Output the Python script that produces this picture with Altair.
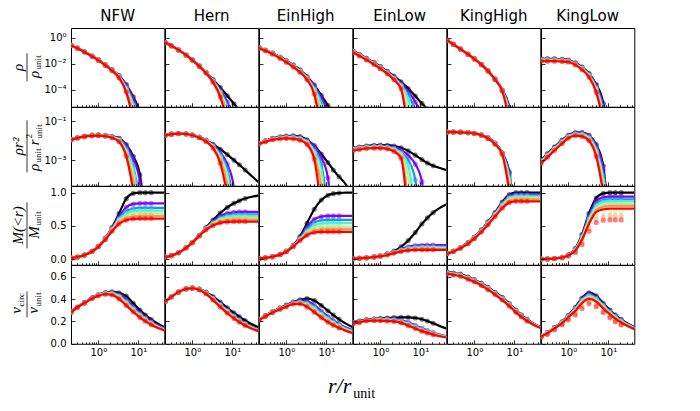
import altair as alt

MODELS = ["NFW", "Hern", "EinHigh", "EinLow", "KingHigh", "KingLow"]
QUANTITIES = ["rho", "rhor2", "M", "v"]
# black, then rainbow purple -> red
SERIES_COLORS = ["#000000", "#8000ff", "#1996f3", "#4df3ce", "#b3f396", "#ff964f", "#ff0000"]
R = [0.21, 0.3, 0.45, 0.7, 1.0, 1.5, 2.2, 3.3, 5.0, 7.5, 11.0, 15.0, 21.0, 31.0, 45.0]
N_POINTS = 13
X_TICKS = [0.3, 0.4, 0.5, 0.6, 0.7, 0.8, 0.9, 1, 2, 3, 4, 5, 6, 7, 8, 9, 10, 20, 30, 40]

# ---------------- NFW ----------------
NFW_rho = [  # log10
    [-0.584, -0.804, -1.076, -1.405, -1.700, -2.072, -2.454, -2.908, -3.598, -4.550, -5.832, -8.35],
    [-0.584, -0.804, -1.076, -1.410, -1.705, -2.077, -2.464, -2.928, -3.648, -4.700, -6.182, -9.35],
    [-0.584, -0.809, -1.081, -1.415, -1.710, -2.087, -2.479, -2.958, -3.798, -5.050, -7.282],
    [-0.589, -0.809, -1.086, -1.420, -1.720, -2.097, -2.494, -2.988, -3.898, -5.200, -7.682],
    [-0.589, -0.814, -1.091, -1.425, -1.725, -2.107, -2.509, -3.018, -3.998, -5.550, -8.582],
    [-0.594, -0.814, -1.096, -1.430, -1.730, -2.112, -2.519, -3.048, -4.098, -5.850, -9.0],
    [-0.594, -0.814, -1.096, -1.440, -1.740, -2.122, -2.534, -3.088, -4.198, -6.350, -9.0],
]
NFW_rhor2 = [  # log10
    [-1.94, -1.85, -1.77, -1.715, -1.70, -1.72, -1.77, -1.87, -2.20, -2.80, -3.75, -6.0],
    [-1.94, -1.85, -1.77, -1.72, -1.705, -1.725, -1.78, -1.89, -2.25, -2.95, -4.10, -7.0],
    [-1.94, -1.855, -1.775, -1.725, -1.71, -1.735, -1.795, -1.92, -2.40, -3.30, -5.20],
    [-1.945, -1.855, -1.78, -1.73, -1.72, -1.745, -1.81, -1.95, -2.50, -3.45, -5.60],
    [-1.945, -1.86, -1.785, -1.735, -1.725, -1.755, -1.825, -1.98, -2.60, -3.80, -6.50],
    [-1.95, -1.86, -1.79, -1.74, -1.73, -1.76, -1.835, -2.01, -2.70, -4.10, -7.0],
    [-1.95, -1.86, -1.79, -1.75, -1.74, -1.77, -1.85, -2.05, -2.80, -4.60, -7.0],
]
NFW_M = [
    [0.017, 0.032, 0.061, 0.119, 0.193, 0.316, 0.475, 0.685, 0.91, 0.99, 1.0, 1.0, 1.0, 1.0, 1.0],
    [0.017, 0.032, 0.061, 0.119, 0.192, 0.313, 0.465, 0.64, 0.78, 0.83, 0.84, 0.84, 0.84, 0.84, 0.84],
    [0.017, 0.032, 0.061, 0.118, 0.19, 0.308, 0.455, 0.615, 0.72, 0.76, 0.77, 0.77, 0.77, 0.77, 0.77],
    [0.017, 0.032, 0.06, 0.117, 0.189, 0.305, 0.447, 0.595, 0.685, 0.723, 0.73, 0.73, 0.73, 0.73, 0.73],
    [0.017, 0.032, 0.06, 0.116, 0.188, 0.302, 0.44, 0.575, 0.65, 0.683, 0.69, 0.69, 0.69, 0.69, 0.69],
    [0.017, 0.032, 0.06, 0.116, 0.187, 0.298, 0.432, 0.555, 0.615, 0.643, 0.65, 0.65, 0.65, 0.65, 0.65],
    [0.017, 0.032, 0.06, 0.115, 0.185, 0.295, 0.42, 0.53, 0.585, 0.605, 0.61, 0.61, 0.61, 0.61, 0.61],
]
NFW_v = [
    [0.284, 0.327, 0.368, 0.412, 0.439, 0.459, 0.465, 0.456, 0.427, 0.363, 0.302, 0.258, 0.218, 0.180, 0.151],
    [0.284, 0.327, 0.368, 0.412, 0.438, 0.457, 0.460, 0.440, 0.395, 0.333, 0.276, 0.237, 0.200, 0.165, 0.138],
    [0.284, 0.327, 0.368, 0.410, 0.436, 0.453, 0.455, 0.432, 0.379, 0.318, 0.265, 0.227, 0.191, 0.158, 0.132],
    [0.284, 0.327, 0.365, 0.409, 0.435, 0.451, 0.451, 0.425, 0.370, 0.310, 0.258, 0.221, 0.186, 0.153, 0.129],
    [0.284, 0.327, 0.365, 0.407, 0.434, 0.449, 0.447, 0.417, 0.361, 0.302, 0.250, 0.214, 0.181, 0.149, 0.125],
    [0.284, 0.327, 0.365, 0.407, 0.432, 0.446, 0.443, 0.410, 0.351, 0.293, 0.243, 0.208, 0.176, 0.145, 0.122],
    [0.284, 0.327, 0.365, 0.405, 0.430, 0.443, 0.437, 0.401, 0.342, 0.284, 0.235, 0.202, 0.170, 0.140, 0.118],
]

# ---------------- Hern ----------------
Hern_rho = [
    [-0.368, -0.617, -0.935, -1.334, -1.701, -2.168, -2.655, -3.218, -3.832, -4.461, -5.076, -5.586, -6.147, -6.804, -7.401],
    [-0.368, -0.617, -0.935, -1.335, -1.703, -2.172, -2.664, -3.258, -3.998, -4.950, -6.482, -9.35],
    [-0.369, -0.618, -0.936, -1.337, -1.706, -2.177, -2.674, -3.288, -4.098, -5.200, -7.282],
    [-0.369, -0.618, -0.937, -1.339, -1.709, -2.182, -2.684, -3.318, -4.198, -5.450, -8.082],
    [-0.370, -0.619, -0.938, -1.341, -1.712, -2.187, -2.694, -3.348, -4.298, -5.700, -9.0],
    [-0.370, -0.619, -0.939, -1.343, -1.715, -2.192, -2.704, -3.378, -4.398, -6.000, -9.0],
    [-0.371, -0.620, -0.941, -1.346, -1.720, -2.202, -2.724, -3.418, -4.548, -6.550, -9.0],
]
Hern_rhor2 = [
    [-1.724, -1.663, -1.629, -1.644, -1.701, -1.816, -1.971, -2.180, -2.434, -2.711, -2.994, -3.234, -3.503, -3.822, -4.115],
    [-1.724, -1.663, -1.629, -1.645, -1.703, -1.820, -1.980, -2.220, -2.600, -3.200, -4.400, -7.0],
    [-1.725, -1.664, -1.630, -1.647, -1.706, -1.825, -1.990, -2.250, -2.700, -3.450, -5.200],
    [-1.725, -1.664, -1.631, -1.649, -1.709, -1.830, -2.000, -2.280, -2.800, -3.700, -6.000],
    [-1.726, -1.665, -1.632, -1.651, -1.712, -1.835, -2.010, -2.310, -2.900, -3.950, -7.0],
    [-1.726, -1.665, -1.633, -1.653, -1.715, -1.840, -2.020, -2.340, -3.000, -4.250, -7.0],
    [-1.727, -1.666, -1.635, -1.656, -1.720, -1.850, -2.040, -2.380, -3.150, -4.800, -7.0],
]
Hern_M = [
    [0.030, 0.053, 0.096, 0.170, 0.250, 0.360, 0.473, 0.589, 0.694, 0.779, 0.840, 0.879, 0.911, 0.939, 0.956],
    [0.030, 0.053, 0.096, 0.170, 0.250, 0.358, 0.466, 0.565, 0.645, 0.690, 0.705, 0.710, 0.710, 0.710, 0.710],
    [0.030, 0.053, 0.096, 0.169, 0.249, 0.356, 0.460, 0.550, 0.620, 0.660, 0.672, 0.675, 0.675, 0.675, 0.675],
    [0.030, 0.053, 0.096, 0.169, 0.249, 0.355, 0.456, 0.540, 0.603, 0.638, 0.648, 0.650, 0.650, 0.650, 0.650],
    [0.030, 0.053, 0.096, 0.169, 0.248, 0.353, 0.451, 0.528, 0.583, 0.610, 0.618, 0.620, 0.620, 0.620, 0.620],
    [0.030, 0.053, 0.096, 0.169, 0.248, 0.351, 0.446, 0.518, 0.565, 0.588, 0.594, 0.595, 0.595, 0.595, 0.595],
    [0.030, 0.053, 0.096, 0.169, 0.247, 0.349, 0.440, 0.505, 0.545, 0.560, 0.565, 0.565, 0.565, 0.565, 0.565],
]
Hern_v = [
    [0.379, 0.421, 0.463, 0.492, 0.500, 0.490, 0.463, 0.423, 0.373, 0.322, 0.276, 0.242, 0.208, 0.174, 0.147],
    [0.379, 0.421, 0.463, 0.492, 0.500, 0.489, 0.460, 0.414, 0.359, 0.303, 0.253, 0.218, 0.184, 0.151, 0.127],
    [0.379, 0.421, 0.463, 0.492, 0.499, 0.487, 0.457, 0.408, 0.352, 0.297, 0.247, 0.212, 0.179, 0.148, 0.124],
    [0.379, 0.421, 0.463, 0.492, 0.499, 0.487, 0.455, 0.404, 0.347, 0.292, 0.243, 0.208, 0.176, 0.145, 0.122],
    [0.379, 0.421, 0.463, 0.491, 0.498, 0.485, 0.453, 0.400, 0.341, 0.285, 0.237, 0.203, 0.172, 0.141, 0.119],
    [0.379, 0.421, 0.463, 0.491, 0.498, 0.484, 0.450, 0.396, 0.336, 0.280, 0.232, 0.199, 0.168, 0.139, 0.116],
    [0.378, 0.420, 0.462, 0.491, 0.497, 0.482, 0.447, 0.391, 0.330, 0.273, 0.227, 0.194, 0.164, 0.135, 0.113],
]

# ---------------- EinHigh ----------------
EinHigh_rho = [
    [-0.764, -0.954, -1.186, -1.490, -1.760, -2.102, -2.474, -2.988, -3.648, -4.430, -5.202, -5.852, -6.494, -7.232, -8.086],
    [-0.774, -0.964, -1.196, -1.500, -1.770, -2.122, -2.504, -3.018, -3.698, -4.600, -5.982, -9.35],
    [-0.784, -0.974, -1.206, -1.520, -1.800, -2.152, -2.544, -3.068, -3.848, -4.950, -7.582],
    [-0.784, -0.984, -1.226, -1.540, -1.820, -2.182, -2.574, -3.108, -3.948, -5.250, -8.582],
    [-0.794, -0.984, -1.236, -1.550, -1.840, -2.202, -2.604, -3.138, -4.048, -5.650, -9.0],
    [-0.794, -0.994, -1.246, -1.570, -1.860, -2.232, -2.634, -3.168, -4.198, -6.050, -9.0],
    [-0.804, -1.004, -1.256, -1.590, -1.880, -2.252, -2.654, -3.238, -4.348, -7.250],
]
EinHigh_rhor2 = [
    [-2.12, -2.00, -1.88, -1.80, -1.76, -1.75, -1.79, -1.95, -2.25, -2.68, -3.12, -3.50, -3.85, -4.25, -4.80],
    [-2.13, -2.01, -1.89, -1.81, -1.77, -1.77, -1.82, -1.98, -2.30, -2.85, -3.90, -7.0],
    [-2.14, -2.02, -1.90, -1.83, -1.80, -1.80, -1.86, -2.03, -2.45, -3.20, -5.50],
    [-2.14, -2.03, -1.92, -1.85, -1.82, -1.83, -1.89, -2.07, -2.55, -3.50, -6.50],
    [-2.15, -2.03, -1.93, -1.86, -1.84, -1.85, -1.92, -2.10, -2.65, -3.90, -7.0],
    [-2.15, -2.04, -1.94, -1.88, -1.86, -1.88, -1.95, -2.13, -2.80, -4.30, -7.0],
    [-2.16, -2.05, -1.95, -1.90, -1.88, -1.90, -1.97, -2.20, -2.95, -5.50],
]
EinHigh_M = [
    [0.010, 0.019, 0.037, 0.072, 0.120, 0.210, 0.340, 0.540, 0.750, 0.890, 0.960, 0.985, 0.995, 1.0, 1.0],
    [0.010, 0.019, 0.037, 0.071, 0.118, 0.205, 0.325, 0.480, 0.600, 0.640, 0.650, 0.650, 0.650, 0.650, 0.650],
    [0.010, 0.019, 0.036, 0.070, 0.116, 0.200, 0.312, 0.445, 0.550, 0.583, 0.590, 0.590, 0.590, 0.590, 0.590],
    [0.010, 0.0185, 0.036, 0.069, 0.114, 0.197, 0.302, 0.420, 0.510, 0.535, 0.540, 0.540, 0.540, 0.540, 0.540],
    [0.0098, 0.0185, 0.0355, 0.068, 0.112, 0.194, 0.293, 0.395, 0.465, 0.487, 0.490, 0.490, 0.490, 0.490, 0.490],
    [0.0097, 0.018, 0.0352, 0.0675, 0.111, 0.192, 0.286, 0.378, 0.430, 0.447, 0.450, 0.450, 0.450, 0.450, 0.450],
    [0.0095, 0.018, 0.035, 0.067, 0.110, 0.190, 0.280, 0.360, 0.400, 0.410, 0.410, 0.410, 0.410, 0.410, 0.410],
]
EinHigh_v = [
    [0.218, 0.252, 0.287, 0.321, 0.346, 0.374, 0.393, 0.405, 0.387, 0.344, 0.295, 0.256, 0.218, 0.180, 0.151],
    [0.218, 0.252, 0.287, 0.318, 0.344, 0.370, 0.384, 0.381, 0.346, 0.292, 0.243, 0.208, 0.176, 0.145, 0.122],
    [0.218, 0.252, 0.283, 0.316, 0.341, 0.365, 0.377, 0.367, 0.332, 0.279, 0.232, 0.198, 0.168, 0.138, 0.116],
    [0.218, 0.248, 0.283, 0.314, 0.338, 0.362, 0.371, 0.357, 0.319, 0.267, 0.222, 0.190, 0.160, 0.132, 0.111],
    [0.216, 0.248, 0.281, 0.312, 0.335, 0.360, 0.365, 0.346, 0.305, 0.255, 0.211, 0.181, 0.153, 0.126, 0.106],
    [0.215, 0.245, 0.280, 0.310, 0.333, 0.358, 0.361, 0.338, 0.293, 0.244, 0.202, 0.173, 0.146, 0.120, 0.101],
    [0.213, 0.245, 0.279, 0.309, 0.332, 0.356, 0.357, 0.330, 0.283, 0.234, 0.193, 0.165, 0.140, 0.115, 0.0965],
]

# ---------------- EinLow ----------------
EinLow_rho = [
    [-1.024, -1.274, -1.576, -1.920, -2.220, -2.582, -2.954, -3.398, -3.918, -4.490, -5.052, -5.492, -5.924, -6.382, -6.796],
    [-1.044, -1.294, -1.596, -1.950, -2.250, -2.622, -3.014, -3.508, -4.148, -4.950, -6.182, -9.35],
    [-1.064, -1.314, -1.616, -1.970, -2.280, -2.662, -3.074, -3.618, -4.398, -5.750, -9.08],
    [-1.084, -1.334, -1.636, -2.000, -2.310, -2.692, -3.114, -3.688, -4.698, -7.250],
    [-1.094, -1.354, -1.656, -2.020, -2.330, -2.722, -3.154, -3.758, -5.298, -8.750],
    [-1.114, -1.374, -1.676, -2.040, -2.360, -2.752, -3.204, -3.838, -6.398, -9.0],
    [-1.144, -1.404, -1.706, -2.070, -2.380, -2.772, -3.234, -3.938, -7.398],
]
EinLow_rhor2 = [
    [-2.38, -2.32, -2.27, -2.23, -2.22, -2.23, -2.27, -2.36, -2.52, -2.74, -2.97, -3.14, -3.28, -3.40, -3.51],
    [-2.40, -2.34, -2.29, -2.26, -2.25, -2.27, -2.33, -2.47, -2.75, -3.20, -4.10, -7.0],
    [-2.42, -2.36, -2.31, -2.28, -2.28, -2.31, -2.39, -2.58, -3.00, -4.00, -7.0],
    [-2.44, -2.38, -2.33, -2.31, -2.31, -2.34, -2.43, -2.65, -3.30, -5.50],
    [-2.45, -2.40, -2.35, -2.33, -2.33, -2.37, -2.47, -2.72, -3.90, -7.0],
    [-2.47, -2.42, -2.37, -2.35, -2.36, -2.40, -2.52, -2.80, -5.00],
    [-2.50, -2.45, -2.40, -2.38, -2.38, -2.42, -2.55, -2.90, -6.00],
]
EinLow_M = [
    [0.008, 0.0125, 0.021, 0.035, 0.052, 0.080, 0.120, 0.185, 0.280, 0.400, 0.530, 0.620, 0.700, 0.770, 0.820],
    [0.0078, 0.012, 0.0205, 0.034, 0.050, 0.076, 0.110, 0.150, 0.185, 0.203, 0.209, 0.210, 0.210, 0.210, 0.210],
    [0.0076, 0.0118, 0.020, 0.033, 0.048, 0.073, 0.104, 0.140, 0.170, 0.185, 0.190, 0.190, 0.190, 0.190, 0.190],
    [0.0074, 0.0116, 0.0198, 0.0325, 0.047, 0.070, 0.099, 0.132, 0.158, 0.171, 0.175, 0.175, 0.175, 0.175, 0.175],
    [0.0072, 0.0114, 0.0195, 0.032, 0.045, 0.067, 0.095, 0.125, 0.148, 0.159, 0.162, 0.162, 0.162, 0.162, 0.162],
    [0.0070, 0.0112, 0.0192, 0.031, 0.0435, 0.0645, 0.091, 0.120, 0.140, 0.148, 0.150, 0.150, 0.150, 0.150, 0.150],
    [0.0068, 0.011, 0.019, 0.030, 0.042, 0.062, 0.088, 0.115, 0.132, 0.139, 0.140, 0.140, 0.140, 0.140, 0.140],
]
EinLow_v = [
    [0.195, 0.204, 0.216, 0.224, 0.228, 0.231, 0.234, 0.237, 0.237, 0.231, 0.219, 0.203, 0.183, 0.158, 0.137],
    [0.193, 0.200, 0.213, 0.220, 0.224, 0.225, 0.224, 0.213, 0.192, 0.165, 0.138, 0.118, 0.100, 0.082, 0.069],
    [0.190, 0.198, 0.211, 0.217, 0.219, 0.221, 0.217, 0.206, 0.184, 0.157, 0.131, 0.113, 0.095, 0.078, 0.066],
    [0.188, 0.197, 0.210, 0.215, 0.217, 0.216, 0.212, 0.200, 0.178, 0.151, 0.126, 0.108, 0.091, 0.075, 0.063],
    [0.185, 0.195, 0.208, 0.214, 0.212, 0.211, 0.208, 0.195, 0.172, 0.146, 0.121, 0.104, 0.088, 0.072, 0.061],
    [0.183, 0.193, 0.207, 0.210, 0.209, 0.207, 0.203, 0.191, 0.167, 0.141, 0.117, 0.100, 0.085, 0.070, 0.058],
    [0.180, 0.191, 0.205, 0.207, 0.205, 0.203, 0.200, 0.187, 0.162, 0.136, 0.113, 0.097, 0.082, 0.067, 0.056],
]

# ---------------- KingHigh ----------------
KingHigh_rho = [
    [-0.194, -0.504, -0.866, -1.270, -1.620, -2.052, -2.534, -3.158, -4.018, -5.350, -9.082],
    [-0.194, -0.504, -0.866, -1.270, -1.620, -2.057, -2.539, -3.168, -4.038, -5.450, -9.082],
    [-0.194, -0.509, -0.871, -1.275, -1.625, -2.062, -2.544, -3.178, -4.058, -5.550, -9.082],
    [-0.199, -0.509, -0.871, -1.275, -1.625, -2.062, -2.549, -3.188, -4.068, -5.700, -9.082],
    [-0.199, -0.514, -0.876, -1.280, -1.630, -2.067, -2.554, -3.198, -4.078, -5.850, -9.082],
    [-0.204, -0.514, -0.876, -1.280, -1.630, -2.067, -2.559, -3.208, -4.088, -6.050, -9.082],
    [-0.204, -0.514, -0.876, -1.280, -1.630, -2.072, -2.564, -3.218, -4.098, -6.350, -9.082],
]
KingHigh_rhor2 = [
    [-1.55, -1.55, -1.56, -1.58, -1.62, -1.70, -1.85, -2.12, -2.62, -3.60, -7.0],
    [-1.55, -1.55, -1.56, -1.58, -1.62, -1.705, -1.855, -2.13, -2.64, -3.70, -7.0],
    [-1.55, -1.555, -1.565, -1.585, -1.625, -1.71, -1.86, -2.14, -2.66, -3.80, -7.0],
    [-1.555, -1.555, -1.565, -1.585, -1.625, -1.71, -1.865, -2.15, -2.67, -3.95, -7.0],
    [-1.555, -1.56, -1.57, -1.59, -1.63, -1.715, -1.87, -2.16, -2.68, -4.10, -7.0],
    [-1.56, -1.56, -1.57, -1.59, -1.63, -1.715, -1.875, -2.17, -2.69, -4.30, -7.0],
    [-1.56, -1.56, -1.57, -1.59, -1.63, -1.72, -1.88, -2.18, -2.70, -4.60, -7.0],
]
KingHigh_M = [
    [0.087, 0.120, 0.175, 0.250, 0.330, 0.440, 0.560, 0.700, 0.860, 0.970, 1.0, 1.0, 1.0, 1.0, 1.0],
    [0.086, 0.119, 0.173, 0.247, 0.326, 0.435, 0.553, 0.690, 0.845, 0.952, 0.980, 0.980, 0.980, 0.980, 0.980],
    [0.085, 0.118, 0.171, 0.244, 0.322, 0.430, 0.546, 0.680, 0.830, 0.935, 0.960, 0.960, 0.960, 0.960, 0.960],
    [0.085, 0.117, 0.170, 0.242, 0.319, 0.425, 0.540, 0.672, 0.815, 0.915, 0.940, 0.940, 0.940, 0.940, 0.940],
    [0.084, 0.116, 0.168, 0.239, 0.315, 0.420, 0.533, 0.663, 0.800, 0.897, 0.920, 0.920, 0.920, 0.920, 0.920],
    [0.083, 0.115, 0.166, 0.236, 0.311, 0.415, 0.526, 0.654, 0.785, 0.878, 0.900, 0.900, 0.900, 0.900, 0.900],
    [0.082, 0.114, 0.164, 0.233, 0.307, 0.408, 0.516, 0.640, 0.765, 0.850, 0.870, 0.870, 0.870, 0.870, 0.870],
]
KingHigh_v = [
    [0.644, 0.632, 0.624, 0.598, 0.574, 0.542, 0.505, 0.461, 0.415, 0.360, 0.302, 0.258, 0.218, 0.180, 0.151],
    [0.640, 0.630, 0.620, 0.594, 0.571, 0.539, 0.501, 0.457, 0.411, 0.356, 0.298, 0.256, 0.216, 0.178, 0.149],
    [0.636, 0.627, 0.616, 0.590, 0.567, 0.535, 0.498, 0.454, 0.407, 0.353, 0.295, 0.253, 0.214, 0.176, 0.148],
    [0.636, 0.624, 0.615, 0.588, 0.565, 0.532, 0.495, 0.451, 0.404, 0.349, 0.292, 0.250, 0.212, 0.174, 0.146],
    [0.632, 0.622, 0.611, 0.584, 0.561, 0.529, 0.492, 0.448, 0.400, 0.346, 0.289, 0.248, 0.209, 0.172, 0.145],
    [0.629, 0.619, 0.607, 0.581, 0.558, 0.526, 0.489, 0.445, 0.396, 0.342, 0.286, 0.245, 0.207, 0.170, 0.143],
    [0.625, 0.616, 0.604, 0.577, 0.554, 0.522, 0.484, 0.440, 0.391, 0.337, 0.281, 0.241, 0.204, 0.168, 0.141],
]

# ---------------- KingLow ----------------
KingLow_rho = [
    [-1.624, -1.624, -1.626, -1.660, -1.720, -1.932, -2.264, -2.758, -3.598, -5.050, -9.082],
    [-1.644, -1.644, -1.646, -1.680, -1.740, -1.952, -2.284, -2.788, -3.678, -5.250, -9.082],
    [-1.674, -1.674, -1.676, -1.710, -1.770, -1.982, -2.324, -2.838, -3.798, -5.550, -9.082],
    [-1.704, -1.704, -1.706, -1.740, -1.790, -2.012, -2.354, -2.888, -3.898, -5.750, -9.082],
    [-1.734, -1.734, -1.736, -1.770, -1.820, -2.042, -2.394, -2.938, -3.998, -5.950, -9.082],
    [-1.764, -1.764, -1.766, -1.800, -1.845, -2.067, -2.429, -2.988, -4.098, -6.200, -9.082],
    [-1.804, -1.804, -1.806, -1.830, -1.870, -2.092, -2.464, -3.038, -4.208, -6.450, -9.082],
]
KingLow_rhor2 = [
    [-2.98, -2.67, -2.32, -1.97, -1.72, -1.58, -1.58, -1.72, -2.20, -3.30, -7.0],
    [-3.00, -2.69, -2.34, -1.99, -1.74, -1.60, -1.60, -1.75, -2.28, -3.50, -7.0],
    [-3.03, -2.72, -2.37, -2.02, -1.77, -1.63, -1.64, -1.80, -2.40, -3.80, -7.0],
    [-3.06, -2.75, -2.40, -2.05, -1.79, -1.66, -1.67, -1.85, -2.50, -4.00, -7.0],
    [-3.09, -2.78, -2.43, -2.08, -1.82, -1.69, -1.71, -1.90, -2.60, -4.20, -7.0],
    [-3.12, -2.81, -2.46, -2.11, -1.845, -1.715, -1.745, -1.95, -2.70, -4.45, -7.0],
    [-3.16, -2.85, -2.50, -2.14, -1.87, -1.74, -1.78, -2.00, -2.81, -4.70, -7.0],
]
KingLow_M = [
    [0.001, 0.003, 0.0095, 0.027, 0.065, 0.160, 0.370, 0.690, 0.920, 0.990, 1.0, 1.0, 1.0, 1.0, 1.0],
    [0.001, 0.003, 0.0094, 0.0265, 0.063, 0.155, 0.355, 0.655, 0.870, 0.930, 0.940, 0.940, 0.940, 0.940, 0.940],
    [0.001, 0.0029, 0.0092, 0.026, 0.061, 0.150, 0.342, 0.625, 0.830, 0.890, 0.900, 0.900, 0.900, 0.900, 0.900],
    [0.001, 0.0029, 0.009, 0.0255, 0.060, 0.145, 0.330, 0.600, 0.800, 0.860, 0.870, 0.870, 0.870, 0.870, 0.870],
    [0.0009, 0.0028, 0.0088, 0.025, 0.058, 0.140, 0.315, 0.575, 0.765, 0.820, 0.830, 0.830, 0.830, 0.830, 0.830],
    [0.0009, 0.0028, 0.0087, 0.0245, 0.057, 0.135, 0.302, 0.553, 0.738, 0.790, 0.800, 0.800, 0.800, 0.800, 0.800],
    [0.0009, 0.0027, 0.0085, 0.024, 0.056, 0.130, 0.290, 0.530, 0.710, 0.750, 0.760, 0.760, 0.760, 0.760, 0.760],
]
KingLow_v = [
    [0.069, 0.100, 0.145, 0.196, 0.255, 0.327, 0.410, 0.457, 0.429, 0.363, 0.302, 0.258, 0.218, 0.180, 0.151],
    [0.069, 0.100, 0.145, 0.195, 0.251, 0.321, 0.402, 0.446, 0.417, 0.352, 0.292, 0.250, 0.212, 0.174, 0.146],
    [0.068, 0.098, 0.143, 0.193, 0.247, 0.316, 0.394, 0.435, 0.407, 0.344, 0.286, 0.245, 0.207, 0.170, 0.143],
    [0.068, 0.098, 0.141, 0.191, 0.245, 0.311, 0.387, 0.426, 0.400, 0.339, 0.281, 0.241, 0.204, 0.168, 0.141],
    [0.067, 0.097, 0.140, 0.189, 0.241, 0.306, 0.378, 0.417, 0.391, 0.331, 0.275, 0.235, 0.199, 0.164, 0.137],
    [0.066, 0.097, 0.139, 0.187, 0.239, 0.300, 0.371, 0.409, 0.384, 0.325, 0.270, 0.231, 0.195, 0.161, 0.135],
    [0.065, 0.095, 0.137, 0.185, 0.237, 0.294, 0.363, 0.401, 0.377, 0.316, 0.263, 0.225, 0.190, 0.157, 0.131],
]
# KingLow scatter points that sit below their lines (green, orange, red)
KingLow_M_pts = {
    4: [0.00085, 0.0025, 0.008, 0.022, 0.052, 0.12, 0.27, 0.50, 0.66, 0.71, 0.72, 0.72, 0.72],
    5: [0.0008, 0.0023, 0.0075, 0.021, 0.049, 0.11, 0.245, 0.46, 0.60, 0.64, 0.65, 0.65, 0.65],
    6: [0.0007, 0.002, 0.007, 0.02, 0.045, 0.10, 0.22, 0.42, 0.55, 0.585, 0.59, 0.59, 0.59],
}
KingLow_v_pts = {
    4: [0.064, 0.091, 0.133, 0.177, 0.228, 0.283, 0.350, 0.389, 0.363, 0.308, 0.256, 0.219, 0.185],
    5: [0.062, 0.088, 0.129, 0.173, 0.221, 0.271, 0.334, 0.373, 0.346, 0.292, 0.243, 0.208, 0.176],
    6: [0.058, 0.082, 0.125, 0.169, 0.212, 0.258, 0.316, 0.357, 0.332, 0.279, 0.232, 0.198, 0.168],
}

PANELS = {
    ("NFW", "rho"): NFW_rho, ("NFW", "rhor2"): NFW_rhor2, ("NFW", "M"): NFW_M, ("NFW", "v"): NFW_v,
    ("Hern", "rho"): Hern_rho, ("Hern", "rhor2"): Hern_rhor2, ("Hern", "M"): Hern_M, ("Hern", "v"): Hern_v,
    ("EinHigh", "rho"): EinHigh_rho, ("EinHigh", "rhor2"): EinHigh_rhor2, ("EinHigh", "M"): EinHigh_M, ("EinHigh", "v"): EinHigh_v,
    ("EinLow", "rho"): EinLow_rho, ("EinLow", "rhor2"): EinLow_rhor2, ("EinLow", "M"): EinLow_M, ("EinLow", "v"): EinLow_v,
    ("KingHigh", "rho"): KingHigh_rho, ("KingHigh", "rhor2"): KingHigh_rhor2, ("KingHigh", "M"): KingHigh_M, ("KingHigh", "v"): KingHigh_v,
    ("KingLow", "rho"): KingLow_rho, ("KingLow", "rhor2"): KingLow_rhor2, ("KingLow", "M"): KingLow_M, ("KingLow", "v"): KingLow_v,
}
POINT_OVERRIDES = {("KingLow", "M"): KingLow_M_pts, ("KingLow", "v"): KingLow_v_pts}
LOG_ROWS = ("rho", "rhor2")

# ---------------- layout / style ----------------
W, H = 93.3, 78.75
X_DOMAIN = [0.2075, 44.8]
Y_DOMAINS = {"rho": [4.9e-6, 5.57], "rhor2": [4.9e-5, 0.537], "M": [-0.085, 1.1], "v": [0.0, 0.705]}
Y_TICKS = {"rho": [1e-4, 1e-2, 1.0], "rhor2": [1e-3, 1e-1], "M": [0.0, 0.5, 1.0], "v": [0.0, 0.2, 0.4, 0.6]}
Y_LABEL_EXPR = {
    "rho": "datum.value > 0.5 ? '10⁰' : (datum.value > 0.005 ? '10⁻²' : '10⁻⁴')",
    "rhor2": "datum.value > 0.05 ? '10⁻¹' : '10⁻³'",
    "M": "format(datum.value, '.1f')",
    "v": "format(datum.value, '.1f')",
}
SERIF = "Liberation Serif"
# y-axis fraction titles: (text, size, style, dx, dy, align) in the rotated text frame
Y_TITLES = {
    "rho": (14, [("ρ", 15, "italic", 0, -4, "center"),
                 ("ρ", 15, "italic", -7, 12, "center"),
                 ("unit", 9, "normal", -2, 14, "left")]),
    "rhor2": (26, [("ρr²", 15, "italic", 0, -4, "center"),
                   ("ρ", 15, "italic", -21, 12, "center"),
                   ("unit", 9, "normal", -16, 14, "left"),
                   ("r", 15, "italic", 4, 12, "center"),
                   ("2", 9, "normal", 8, 5, "left"),
                   ("unit", 9, "normal", 8, 15, "left")]),
    "M": (23, [("M(<r)", 15, "italic", 0, -4, "center"),
               ("M", 15, "italic", -7, 12, "center"),
               ("unit", 9, "normal", 0, 14, "left")]),
    "v": (13, [("v", 15, "italic", -6, -6, "center"),
               ("circ", 9, "normal", -2, -3, "left"),
               ("v", 15, "italic", -6, 11, "center"),
               ("unit", 9, "normal", -2, 14, "left")]),
}
TITLE_X = -44
ONE_ROW = [{"k": 0}]


def x_axis(show_labels):
    return alt.Axis(
        values=X_TICKS, orient="bottom", offset=-4, tickSize=4, tickWidth=0.8, tickColor="black",
        tickDash={"condition": {"test": "datum.value != 1 && datum.value != 10", "value": [0, 2, 2]},
                  "value": [4, 0]},
        domain=False, grid=False, labels=show_labels,
        labelExpr="datum.value == 1 ? '10⁰' : (datum.value == 10 ? '10¹' : '')",
        labelFont="DejaVu Sans", labelFontSize=10, labelColor="black", labelPadding=4,
        labelOverlap=False, title=None, zindex=1)


def y_axis(q, show_labels):
    return alt.Axis(
        values=Y_TICKS[q], orient="left", offset=-4, tickSize=4, tickWidth=0.8, tickColor="black",
        domain=False, grid=False, labels=show_labels, labelExpr=Y_LABEL_EXPR[q],
        labelFont="DejaVu Sans", labelFontSize=10, labelColor="black", labelPadding=5,
        labelOverlap=False, title=None, zindex=1)


def text_layer(text, size, style, x, y, dx, dy, align, angle):
    return alt.Chart(alt.Data(values=ONE_ROW)).mark_text(
        text=text, font=SERIF, fontSize=size, fontStyle=style, align=align, baseline="alphabetic",
        angle=angle, dx=dx, dy=dy, color="black").encode(x=alt.value(x), y=alt.value(y))


def panel(mi, qi):
    m, q = MODELS[mi], QUANTITIES[qi]
    is_log = q in LOG_ROWS
    xenc = alt.X("r:Q", scale=alt.Scale(type="log", domain=X_DOMAIN, nice=False), axis=x_axis(qi == 3))
    yscale = (alt.Scale(type="log", domain=Y_DOMAINS[q], nice=False) if is_log
              else alt.Scale(domain=Y_DOMAINS[q], nice=False, zero=False))
    yenc = alt.Y("val:Q", scale=yscale, axis=y_axis(q, mi == 0))
    expr = "pow(10, datum.y)" if is_log else "datum.y"
    overrides = POINT_OVERRIDES.get((m, q), {})
    layers = []
    for s, ys in enumerate(PANELS[(m, q)]):
        color = SERIES_COLORS[s]
        line_rows = [{"r": R[i], "y": y} for i, y in enumerate(ys)]
        pts = overrides.get(s, ys[:N_POINTS])
        pt_rows = [{"r": R[i], "y": y} for i, y in enumerate(pts)]
        layers.append(alt.Chart(alt.Data(values=line_rows)).transform_calculate(val=expr)
                      .mark_line(color=color, strokeWidth=2.2, clip=True, interpolate="monotone")
                      .encode(x=xenc, y=yenc))
        layers.append(alt.Chart(alt.Data(values=pt_rows)).transform_calculate(val=expr)
                      .mark_circle(color=color, size=26, opacity=0.5, clip=True)
                      .encode(x=xenc, y=yenc))
    if mi == 0:
        half, parts = Y_TITLES[q]
        for (t, fs, st, dx, dy, al) in parts:
            layers.append(text_layer(t, fs, st, TITLE_X, H / 2, dx, dy, al, 270))
        layers.append(alt.Chart(alt.Data(values=ONE_ROW)).mark_rule(color="black", strokeWidth=0.8)
                      .encode(x=alt.value(TITLE_X), y=alt.value(H / 2 - half), y2=alt.value(H / 2 + half)))
    if qi == 3 and mi == 2:
        layers.append(text_layer("r/r", 22, "italic", W - 1, 128, 0, 0, "right", 0))
        layers.append(text_layer("unit", 14, "normal", W + 1, 133, 0, 0, "left", 0))
    ch = alt.layer(*layers).properties(width=W, height=H)
    if qi == 0:
        ch = ch.properties(title=alt.TitleParams(text=m, font="DejaVu Sans", fontSize=15, fontWeight="normal",
                                                 color="black", anchor="middle", offset=4))
    return ch


panels = [panel(mi, qi) for qi in range(4) for mi in range(6)]
chart = (alt.concat(*panels, columns=6, spacing=0, bounds="flush")
         .properties(padding={"left": 0, "top": 0, "right": 5, "bottom": 0}, background="white")
         .configure_view(stroke="black", strokeWidth=1))

chart.save("out.html", embed_options={"renderer": "svg", "actions": False})
